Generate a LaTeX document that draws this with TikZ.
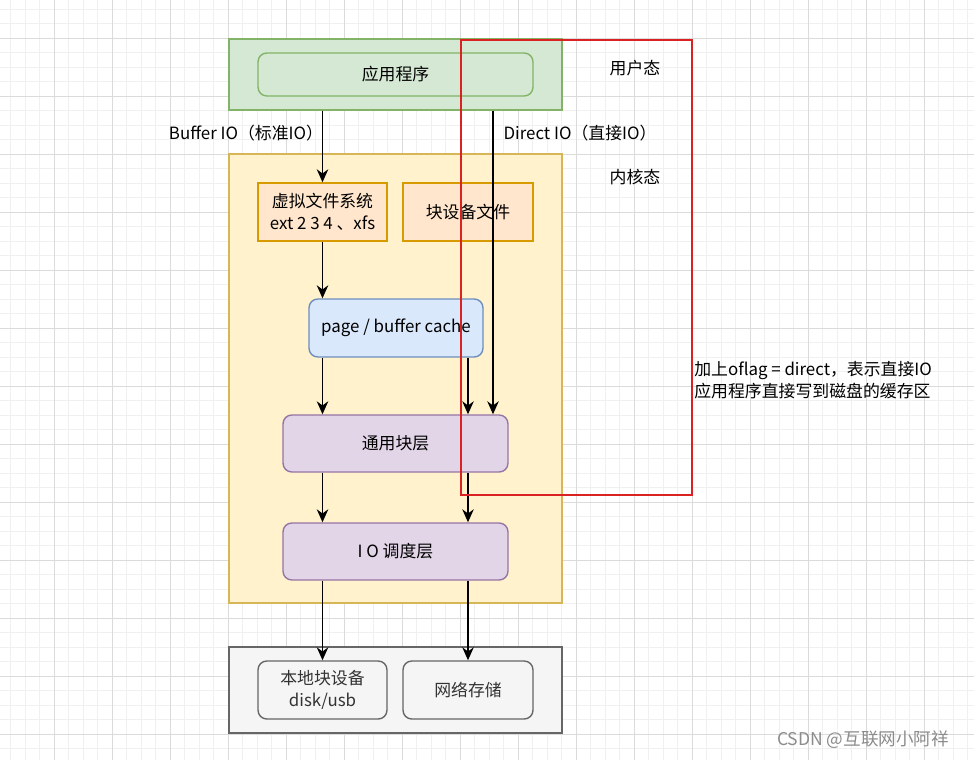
\documentclass[tikz,border=0pt]{standalone}
\usepackage{fontspec}
\setmainfont{Noto Sans CJK SC}
\usetikzlibrary{arrows.meta}

\definecolor{greenfill}{HTML}{D5E8D4}
\definecolor{greenline}{HTML}{82B366}
\definecolor{yellowfill}{HTML}{FFF2CC}
\definecolor{yellowline}{HTML}{D6B656}
\definecolor{orangefill}{HTML}{FFE6CC}
\definecolor{orangeline}{HTML}{D79B00}
\definecolor{bluefill}{HTML}{DAE8FC}
\definecolor{blueline}{HTML}{6C8EBF}
\definecolor{purplefill}{HTML}{E1D5E7}
\definecolor{purpleline}{HTML}{9673A6}
\definecolor{grayfill}{HTML}{F5F5F5}
\definecolor{grayline}{HTML}{666666}
\definecolor{markred}{RGB}{218,34,34}

\begin{document}
\begin{tikzpicture}[x=0.02cm, y=-0.02cm,
    every node/.style={font=\fontsize{9.6}{12.2}\selectfont, align=center, inner sep=0pt},
    layer/.style={draw, line width=0.8pt},
    block/.style={draw, line width=0.8pt, rounded corners=5pt},
    flow/.style={line width=0.8pt, -{Stealth[length=2.6mm, width=2.3mm]}},
    minorline/.style={draw=black!6, line width=0.5pt},
    majorline/.style={draw=black!14, line width=0.5pt}]
      % background grid
      \useasboundingbox (0,0) rectangle (974,760);
      \fill[white] (0,0) rectangle (974,760);
      \foreach \i in {-3,...,63} \draw[minorline] ({54+14.5*\i},0) -- ({54+14.5*\i},760);
      \foreach \i in {-2,...,49} \draw[minorline] (0,{38+14.5*\i}) -- (974,{38+14.5*\i});
      \foreach \i in {0,...,15} \draw[majorline] ({54+58*\i},0) -- ({54+58*\i},760);
      \foreach \i in {0,...,12} \draw[majorline] (0,{38+58*\i}) -- (974,{38+58*\i});

      % user space
      \node[layer, draw=greenline, fill=greenfill, minimum width=6.66cm, minimum height=1.42cm] (user) at (395.5,74.5) {};
      \node[block, draw=greenline, fill=greenfill, minimum width=5.5cm, minimum height=0.86cm] (app) at (395.5,74.5) {应用程序};
      \node (userlbl) at (635,68) {用户态};

      % kernel space
      \node[layer, draw=yellowline, fill=yellowfill, minimum width=6.66cm, minimum height=8.98cm] (kernel) at (395.5,378.5) {};
      \node (kernellbl) at (635,177) {内核态};
      \node[layer, draw=orangeline, fill=orangefill, minimum width=2.58cm, minimum height=1.16cm] (vfs) at (322.5,212) {虚拟文件系统\\ext 2 3 4 、xfs};
      \node[layer, draw=orangeline, fill=orangefill, minimum width=2.6cm, minimum height=1.16cm] (bdev) at (468,212) {块设备文件};
      \node[block, draw=blueline, fill=bluefill, minimum width=3.48cm, minimum height=1.16cm] (cache) at (396,328) {page / buffer cache};
      \node[block, draw=purpleline, fill=purplefill, minimum width=4.5cm, minimum height=1.14cm] (generic) at (395.5,443.5) {通用块层};
      \node[block, draw=purpleline, fill=purplefill, minimum width=4.5cm, minimum height=1.14cm] (sched) at (395.5,551.5) {I O 调度层};

      % devices
      \node[layer, draw=grayline, fill=grayfill, minimum width=6.66cm, minimum height=1.72cm] (dev) at (395.5,690) {};
      \node[block, draw=grayline, fill=grayfill, text=black!80, minimum width=2.58cm, minimum height=1.16cm] (local) at (322.5,690) {本地块设备\\disk/usb};
      \node[block, draw=grayline, fill=grayfill, text=black!80, minimum width=2.6cm, minimum height=1.16cm] (net) at (468,690) {网络存储};

      % io paths
      \coordinate (dcol) at (493,0);
      \node (bufferlbl) at (246,133) {Buffer IO（标准IO）};
      \node (directlbl) at (580,133) {Direct IO（直接IO）};
      \draw[flow] (user.south -| vfs) -- (vfs.north);
      \draw[flow] (vfs.south) -- (cache.north -| vfs);
      \draw[flow] (user.south -| dcol) -- (generic.north -| dcol);
      \draw[flow] (cache.south -| vfs) -- (generic.north -| vfs);
      \draw[flow] (cache.south -| bdev) -- (generic.north -| bdev);
      \draw[flow] (generic.south -| vfs) -- (sched.north -| vfs);
      \draw[flow] (generic.south -| bdev) -- (sched.north -| bdev);
      \draw[flow] (sched.south -| vfs) -- (local.north);
      \draw[flow] (sched.south -| net) -- (net.north);

      % direct io mark
      \draw[markred, line width=1.1pt] (461,40) rectangle (692,495);
      \node[anchor=west, align=left] (note) at (694,380) {加上oflag = direct，表示直接IO\\应用程序直接写到磁盘的缓存区};
      \node[text=black!45, font=\fontsize{10}{12}\selectfont] (mark) at (863,740) {CSDN @互联网小阿祥};
\end{tikzpicture}
\end{document}
